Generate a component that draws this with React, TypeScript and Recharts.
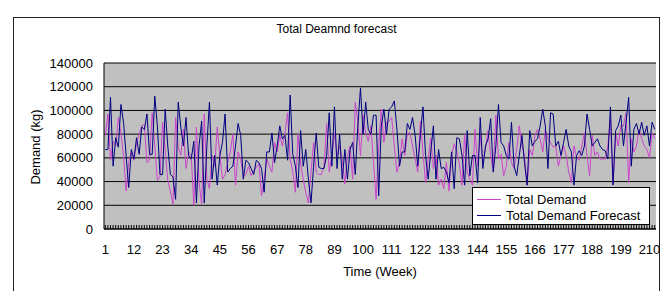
import { CartesianGrid, Legend, Line, LineChart, XAxis, YAxis } from "recharts";

// weeks 1..212
const weeks = Array.from({ length: 212 }, (_, i) => i + 1);

const totalDemand = [
  79000, 97000, 58000, 74000, 70000, 94000, 81000, 62000, 32000, 56000,
  65000, 58000, 72000, 80000, 87000, 88000, 56000, 58000, 98000, 70000,
  41000, 44000, 90000, 67000, 41000, 32000, 21000, 94000, 69000, 62000,
  84000, 51000, 65000, 62000, 20000, 86000, 39000, 21000, 97000, 42000,
  34000, 62000, 53000, 86000, 62000, 42000, 46000, 56000, 65000, 80000,
  37000, 65000, 59000, 44000, 46000, 53000, 45000, 49000, 52000, 55000,
  28000, 42000, 59000, 53000, 48000, 73000, 65000, 79000, 70000, 81000,
  98000, 59000, 48000, 31000, 80000, 55000, 42000, 31000, 22000, 48000,
  73000, 48000, 46000, 46000, 53000, 89000, 48000, 62000, 81000, 62000,
  70000, 58000, 38000, 62000, 70000, 42000, 107000, 90000, 62000, 96000,
  81000, 74000, 87000, 56000, 25000, 70000, 101000, 73000, 90000, 91000,
  94000, 70000, 48000, 56000, 76000, 62000, 81000, 81000, 70000, 59000,
  48000, 91000, 65000, 39000, 59000, 77000, 51000, 62000, 37000, 42000,
  34000, 56000, 32000, 62000, 72000, 65000, 55000, 37000, 80000, 48000,
  42000, 37000, 84000, 53000, 79000, 56000, 67000, 83000, 62000, 49000,
  96000, 59000, 63000, 45000, 53000, 73000, 56000, 51000, 67000, 87000,
  70000, 62000, 37000, 67000, 62000, 79000, 84000, 76000, 65000, 84000,
  76000, 73000, 69000, 70000, 53000, 62000, 70000, 62000, 48000, 39000,
  70000, 60000, 58000, 70000, 81000, 62000, 45000, 79000, 62000, 65000,
  59000, 59000, 59000, 70000, 93000, 38000, 81000, 70000, 87000, 87000,
  98000, 39000, 76000, 65000, 70000, 84000, 76000, 70000, 67000, 60000,
  81000, 76000,
];

const demandForecast = [
  67000, 67000, 111000, 53000, 77000, 69000, 105000, 90000, 62000, 35000,
  67000, 59000, 77000, 63000, 86000, 84000, 97000, 63000, 63000, 112000,
  87000, 46000, 46000, 101000, 70000, 46000, 44000, 25000, 107000, 86000,
  70000, 94000, 62000, 59000, 74000, 22000, 70000, 91000, 22000, 70000,
  107000, 42000, 62000, 37000, 62000, 73000, 97000, 48000, 51000, 53000,
  70000, 89000, 79000, 42000, 58000, 56000, 51000, 46000, 58000, 56000,
  51000, 31000, 65000, 65000, 81000, 56000, 70000, 87000, 76000, 79000,
  58000, 113000, 63000, 53000, 35000, 83000, 53000, 67000, 42000, 22000,
  53000, 81000, 52000, 51000, 51000, 62000, 98000, 53000, 103000, 51000,
  80000, 42000, 67000, 42000, 67000, 73000, 46000, 87000, 119000, 80000,
  107000, 84000, 80000, 96000, 96000, 28000, 87000, 101000, 80000, 101000,
  103000, 108000, 84000, 53000, 65000, 65000, 89000, 84000, 94000, 79000,
  53000, 79000, 103000, 62000, 42000, 65000, 87000, 42000, 67000, 51000,
  52000, 48000, 39000, 65000, 34000, 77000, 76000, 62000, 37000, 83000,
  45000, 62000, 62000, 39000, 94000, 51000, 70000, 76000, 93000, 48000,
  70000, 105000, 73000, 70000, 62000, 59000, 90000, 53000, 45000, 62000,
  79000, 56000, 37000, 83000, 70000, 74000, 76000, 87000, 101000, 87000,
  51000, 98000, 97000, 70000, 74000, 62000, 73000, 84000, 70000, 65000,
  37000, 62000, 66000, 62000, 70000, 97000, 84000, 70000, 73000, 76000,
  70000, 67000, 66000, 59000, 103000, 37000, 83000, 87000, 96000, 70000,
  90000, 111000, 53000, 84000, 89000, 80000, 90000, 79000, 87000, 70000,
  90000, 84000,
];

const weekLabels = [1, 12, 23, 34, 45, 56, 67, 78, 89, 100, 111, 122, 133, 144, 155, 166, 177, 188, 199, 210];
const demandTicks = [0, 20000, 40000, 60000, 80000, 100000, 120000, 140000];

const data = weeks.map((week, i) => ({
  week,
  demand: totalDemand[i],
  forecast: demandForecast[i],
}));

const FONT = '"Liberation Sans", Arial, sans-serif';
const DEMAND_COLOR = "#cc44cc";
const FORECAST_COLOR = "#000080";

function WeekTick(props: any) {
  const { x, y, payload } = props;
  return (
    <g>
      <line x1={x} x2={x} y1={y - 4} y2={y} stroke="#000" strokeWidth={1} />
      {weekLabels.includes(payload.value) && (
        <text x={x} y={y + 25} textAnchor="middle" fontSize={13} fill="#000" fontFamily={FONT}>
          {payload.value}
        </text>
      )}
    </g>
  );
}

function LegendBox() {
  const rows = [
    { name: "Total Demand", color: DEMAND_COLOR },
    { name: "Total Demand Forecast", color: FORECAST_COLOR },
  ];
  return (
    <div
      style={{
        width: "100%",
        height: "100%",
        boxSizing: "border-box",
        border: "1px solid #000",
        background: "#fff",
        paddingTop: 3,
      }}
    >
      {rows.map((r) => (
        <div key={r.name} style={{ display: "flex", alignItems: "center", height: 16, fontSize: 13, fontFamily: FONT, color: "#000" }}>
          <span style={{ display: "inline-block", width: 24, height: 1, background: r.color, marginLeft: 4, marginRight: 5 }} />
          <span style={{ whiteSpace: "nowrap" }}>{r.name}</span>
        </div>
      ))}
    </div>
  );
}

export default function App() {
  return (
    <div style={{ position: "absolute", left: 0, top: 0, width: 671, height: 291, background: "#fff", overflow: "hidden", fontFamily: FONT }}>
      <div style={{ position: "absolute", left: 13, top: 17, width: 645, height: 300, border: "1px solid #222" }} />
      <div style={{ position: "absolute", left: 13, width: 647, top: 22, textAlign: "center", fontSize: 12, color: "#000" }}>
        Total Deamnd forecast
      </div>
      <LineChart width={671} height={291} data={data} margin={{ top: 63, right: 15, bottom: 32, left: 14 }}>
        <CartesianGrid vertical={false} stroke="#000" fill="#c0c0c0" fillOpacity={1} />
        <XAxis
          dataKey="week"
          interval={0}
          tickLine={false}
          tickSize={0}
          tickMargin={0}
          height={30}
          padding={{ left: 1.3, right: 1.3 }}
          axisLine={{ stroke: "#000" }}
          tick={(p: any) => <WeekTick {...p} />}
          label={{
            content: () => (
              <text x={380} y={276} textAnchor="middle" fontSize={13} fill="#000" fontFamily={FONT}>
                Time (Week)
              </text>
            ),
          }}
        />
        <YAxis
          width={90}
          domain={[0, 140000]}
          ticks={demandTicks}
          tickLine={false}
          tickSize={0}
          tickMargin={11}
          axisLine={{ stroke: "#000" }}
          tick={{ fontSize: 13, fill: "#000", fontFamily: FONT }}
          label={{
            content: () => (
              <text
                x={35}
                y={147}
                transform="rotate(-90 35 147)"
                textAnchor="middle"
                dominantBaseline="central"
                fontSize={13}
                fill="#000"
                fontFamily={FONT}
              >
                Demand (kg)
              </text>
            ),
          }}
        />
        <Legend
          layout="vertical"
          align="center"
          verticalAlign="middle"
          wrapperStyle={{ position: "absolute", left: 472, top: 187, width: 178, height: 38 }}
          content={() => <LegendBox />}
        />
        <Line
          type="linear"
          dataKey="demand"
          name="Total Demand"
          stroke={DEMAND_COLOR}
          strokeWidth={1}
          dot={false}
          isAnimationActive={false}
        />
        <Line
          type="linear"
          dataKey="forecast"
          name="Total Demand Forecast"
          stroke={FORECAST_COLOR}
          strokeWidth={1}
          dot={false}
          isAnimationActive={false}
        />
      </LineChart>
    </div>
  );
}
